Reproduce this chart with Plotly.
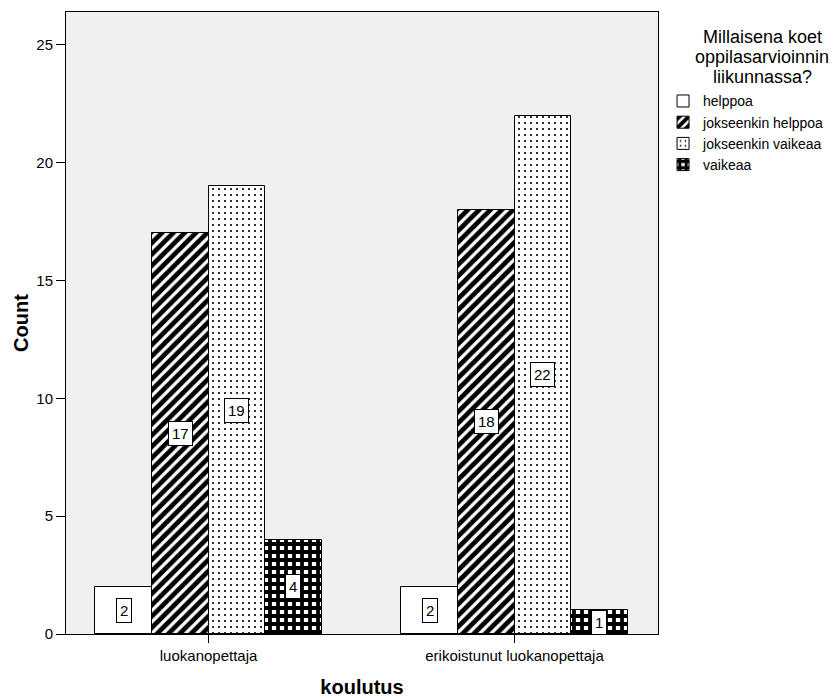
import plotly.graph_objects as go

categories = ["luokanopettaja", "erikoistunut luokanopettaja"]
series_names = ["helppoa", "jokseenkin helppoa", "jokseenkin vaikeaa", "vaikeaa"]
helppoa = [2, 2]
jokseenkin_helppoa = [17, 18]
jokseenkin_vaikeaa = [19, 22]
vaikeaa = [4, 1]
y_ticks = [0, 5, 10, 15, 20, 25]
legend_title_lines = ["Millaisena koet", "oppilasarvioinnin", "liikunnassa?"]

series_values = [helppoa, jokseenkin_helppoa, jokseenkin_vaikeaa, vaikeaa]
patterns = [
    dict(shape="", bgcolor="white"),
    dict(shape="/", fgcolor="black", bgcolor="white", fgopacity=1, size=8, solidity=0.6),
    dict(shape=".", fgcolor="black", bgcolor="white", fgopacity=1, size=6, solidity=0.1),
    dict(shape="+", fgcolor="black", bgcolor="white", fgopacity=1, size=8, solidity=0.72),
]

FONT = "Liberation Sans, Arial, sans-serif"
group_width = 0.74
n = len(series_names)
bw = group_width / n
xpos = list(range(len(categories)))

fig = go.Figure()
annotations = []
for i, (name, vals, pat) in enumerate(zip(series_names, series_values, patterns)):
    off = -group_width / 2 + i * bw
    fig.add_trace(go.Bar(
        name=name, x=xpos, y=vals, width=bw, offset=off,
        marker=dict(color="white", pattern=pat, line=dict(color="black", width=1)),
    ))
    for xi, v in zip(xpos, vals):
        annotations.append(dict(
            x=xi + off + bw / 2, y=v / 2, xref="x", yref="y", text=str(v),
            showarrow=False, bgcolor="white", bordercolor="black", borderwidth=1,
            borderpad=3, font=dict(size=15, color="black", family=FONT),
        ))

title_y = [0.960, 0.927, 0.896]
for line, yy in zip(legend_title_lines, title_y):
    annotations.append(dict(
        x=1.1765, y=yy, xref="paper", yref="paper", text=line, showarrow=False,
        xanchor="center", yanchor="middle", font=dict(size=18, color="black", family=FONT),
    ))

fig.update_layout(
    width=840, height=698,
    margin=dict(l=66, r=182, t=12, b=64, autoexpand=False),
    paper_bgcolor="white", plot_bgcolor="#f0f0f0",
    font=dict(family=FONT, color="black", size=15),
    showlegend=True,
    legend=dict(
        x=1.0085, xanchor="left", y=0.882, yanchor="top", xref="paper", yref="paper",
        font=dict(size=14), itemwidth=30, tracegroupgap=0, bgcolor="rgba(0,0,0,0)",
    ),
    annotations=annotations,
    bargap=0, barmode="overlay",
)
fig.update_xaxes(
    range=[-0.466, 1.469], tickvals=xpos, ticktext=categories,
    showline=True, linecolor="black", linewidth=1, mirror=True,
    ticks="outside", ticklen=8, tickcolor="black", showgrid=False, zeroline=False,
    tickfont=dict(size=15),
    title=dict(text="<b>koulutus</b>", font=dict(size=20), standoff=23),
)
fig.update_yaxes(
    range=[0, 26.4], tickvals=y_ticks,
    showline=True, linecolor="black", linewidth=1, mirror=True,
    ticks="outside", ticklen=9, tickcolor="black", showgrid=False, zeroline=False,
    tickfont=dict(size=15),
    title=dict(text="<b>Count</b>", font=dict(size=20), standoff=2),
)

fig.write_html("out.html", config={"displayModeBar": False},
               post_script="document.body.style.margin='0';")
